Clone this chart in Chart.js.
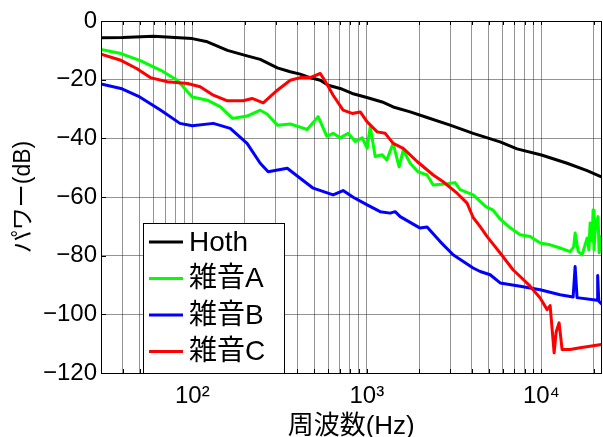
<!DOCTYPE html>
<html>
<head>
<meta charset="utf-8">
<script src="https://cdn.jsdelivr.net/npm/chart.js@4"></script>
<style>
    body { margin: 0; background: #fff; }
    #chartBox { width: 603px; height: 437px; }
</style>
</head>
<body>
<div id="chartBox"><canvas id="powerChart" width="603" height="437"></canvas></div>
<script>
// Datos (frecuencia en Hz, potencia en dB)
const hothFreq = [30, 40, 60, 100, 122, 159, 201, 245, 280, 307, 364, 415, 455, 541, 600, 703, 824, 1000, 1224, 1415, 1771, 2213, 2999, 4062, 5796, 7246, 10000, 14030, 18262, 22050];
const hothDb = [-5.7, -5.6, -5.2, -6.0, -7.1, -10.0, -11.7, -13.1, -14.8, -16.0, -17.3, -18.1, -19.0, -20.2, -21.9, -23.0, -24.7, -26.1, -27.6, -29.3, -31.0, -32.9, -35.5, -38.3, -41.2, -43.6, -45.7, -48.5, -51.0, -53.1];

const noiseAFreq = [30, 39, 50, 66, 82, 100, 122, 145, 170, 206, 245, 269, 307, 364, 415, 455, 526, 590, 641, 703, 781, 858, 940, 1004, 1045, 1116, 1224, 1300, 1415, 1530, 1615, 1771, 1960, 2213, 2399, 2884, 3201, 3420, 4062, 4800, 5286, 5802, 6620, 7553, 8617, 9831, 11215, 12790, 14599, 15300, 15594, 16229, 17100, 18262, 18700, 19003, 19300, 19500, 19769, 20000, 20294, 20600, 21110, 21400, 21673, 22050];
const noiseADb = [-9.7, -11.1, -13.4, -16.8, -20.2, -25.9, -27.0, -29.3, -33.2, -32.4, -30.4, -31.8, -35.5, -35.1, -36.2, -37.0, -32.6, -39.3, -38.3, -39.8, -38.3, -41.1, -39.8, -43.4, -36.0, -46.2, -45.6, -47.4, -41.7, -49.7, -44.0, -48.5, -51.4, -52.5, -55.9, -55.5, -55.1, -57.5, -59.3, -63.3, -64.5, -67.5, -70.5, -72.9, -73.5, -75.7, -76.3, -77.4, -78.6, -77.0, -72.3, -78.5, -79.7, -74.0, -78.0, -68.9, -70.0, -75.0, -64.4, -78.0, -72.0, -69.0, -66.7, -79.0, -76.9, -73.5];

const noiseBFreq = [30, 39, 50, 66, 85, 100, 132, 165, 206, 245, 272, 350, 415, 493, 641, 731, 835, 1004, 1192, 1360, 1452, 1552, 2019, 2213, 2629, 3119, 4062, 4458, 5086, 5802, 7553, 9831, 12790, 15190, 15594, 16000, 20834, 21000, 21300, 22050];
const noiseBDb = [-21.5, -23.0, -25.9, -30.4, -34.9, -35.7, -34.9, -36.6, -41.7, -48.5, -51.4, -50.2, -53.6, -57.0, -59.3, -57.8, -60.1, -62.7, -65.0, -65.5, -65.0, -66.7, -70.6, -70.2, -75.2, -79.7, -84.2, -85.4, -86.5, -89.3, -90.4, -91.6, -93.3, -94.1, -83.7, -94.3, -95.2, -86.8, -95.5, -96.4];

const noiseCFreq = [30, 39, 48, 57.5, 72, 94, 111, 132, 159, 196, 220, 255, 307, 364, 415, 473, 541, 577, 641, 731, 824, 916, 1004, 1146, 1274, 1415, 1615, 1941, 2399, 2735, 3288, 3750, 4062, 4458, 4886, 5802, 6874, 7553, 8617, 9831, 10780, 11215, 11823, 12141, 12626, 13135, 14599, 16651, 22050];
const noiseCDb = [-11.3, -13.4, -16.2, -19.3, -20.7, -21.3, -22.4, -25.3, -27.2, -27.2, -26.4, -27.9, -23.6, -20.2, -19.3, -19.3, -17.9, -20.5, -25.3, -30.4, -31.5, -31.0, -34.4, -37.8, -38.3, -41.7, -43.4, -47.9, -52.5, -54.8, -58.7, -62.1, -67.0, -70.1, -73.5, -79.1, -84.8, -87.1, -90.4, -94.4, -98.4, -97.0, -113.1, -106.0, -102.9, -112.0, -112.0, -111.4, -110.3];

const seriesLabels = ['Hoth', '雑音A', '雑音B', '雑音C'];
const seriesColors = ['#000000', '#00ff00', '#0000ff', '#ff0000'];

// Ticks del eje X (cuadrícula menor y etiquetas de década)
const xGridFreqs = [30, 40, 50, 60, 70, 80, 90, 100, 200, 300, 400, 500, 600, 700, 800, 900,
    1000, 2000, 3000, 4000, 5000, 6000, 7000, 8000, 9000, 10000, 20000];
const xMajorFreqs = [100, 1000, 10000];
const xMajorLabels = ['10²', '10³', '10⁴'];

const FONT = "'Liberation Sans', Arial, 'Noto Sans CJK JP', sans-serif";

function toPoints(freqs, values) {
    return freqs.map((f, i) => ({ x: f, y: values[i] }));
}

// Marco del área y marcas interiores (estilo MATLAB)
const framePlugin = {
    id: 'frame',
    afterDraw(chart) {
        const { ctx, chartArea: a, scales } = chart;
        ctx.save();
        ctx.strokeStyle = '#000';
        ctx.lineWidth = 1;
        ctx.beginPath();
        scales.x.ticks.forEach(t => {
            const px = Math.round(scales.x.getPixelForValue(t.value)) + 0.5;
            ctx.moveTo(px, a.top); ctx.lineTo(px, a.top + 4);
            ctx.moveTo(px, a.bottom); ctx.lineTo(px, a.bottom - 4);
        });
        scales.y.ticks.forEach(t => {
            const py = Math.round(scales.y.getPixelForValue(t.value)) + 0.5;
            ctx.moveTo(a.left, py); ctx.lineTo(a.left + 5, py);
        });
        ctx.stroke();
        ctx.strokeRect(Math.round(a.left) + 0.5, Math.round(a.top) + 0.5,
            Math.round(a.right - a.left), Math.round(a.bottom - a.top));
        ctx.restore();
    }
};

// Leyenda dentro del gráfico, abajo a la izquierda
const legendPlugin = {
    id: 'insideLegend',
    afterDraw(chart) {
        const { ctx } = chart;
        const box = { left: 143, top: 223, right: 284, bottom: 373 };
        ctx.save();
        ctx.fillStyle = '#fff';
        ctx.fillRect(box.left, box.top, box.right - box.left, box.bottom - box.top);
        ctx.strokeStyle = '#000';
        ctx.lineWidth = 1;
        ctx.strokeRect(box.left + 0.5, box.top + 0.5, box.right - box.left, box.bottom - box.top);
        ctx.font = '28px ' + FONT;
        ctx.textBaseline = 'middle';
        chart.data.datasets.forEach((ds, i) => {
            const y = 242 + i * 36.5;
            ctx.strokeStyle = ds.borderColor;
            ctx.lineWidth = 3;
            ctx.beginPath();
            ctx.moveTo(149, y);
            ctx.lineTo(183, y);
            ctx.stroke();
            ctx.fillStyle = '#000';
            ctx.fillText(ds.label, 189, y + 1);
        });
        ctx.restore();
    }
};

// Orden de dibujo: la última serie queda encima (como en MATLAB)
const datasets = [
    toPoints(hothFreq, hothDb),
    toPoints(noiseAFreq, noiseADb),
    toPoints(noiseBFreq, noiseBDb),
    toPoints(noiseCFreq, noiseCDb)
].map((points, i) => ({
    label: seriesLabels[i],
    data: points,
    order: seriesLabels.length - i,
    borderColor: seriesColors[i],
    borderWidth: 3,
    borderJoinStyle: 'round',
    borderCapStyle: 'round',
    pointRadius: 0,
    tension: 0,
    fill: false
}));

new Chart(document.getElementById('powerChart'), {
    type: 'line',
    data: { datasets },
    options: {
        responsive: false,
        animation: false,
        devicePixelRatio: 1,
        layout: { padding: { top: 21, left: 0, right: 1, bottom: 0 } },
        plugins: {
            legend: { display: false },
            tooltip: { enabled: false }
        },
        scales: {
            x: {
                type: 'logarithmic',
                min: 30,
                max: 22050,
                afterBuildTicks(scale) {
                    scale.ticks = xGridFreqs.map(v => ({ value: v }));
                },
                afterFit(scale) { scale.height = 64; },
                ticks: {
                    autoSkip: false,
                    maxRotation: 0,
                    padding: 9,
                    color: '#000',
                    font: { size: 24, family: FONT },
                    callback(value) {
                        const idx = xMajorFreqs.indexOf(value);
                        return idx >= 0 ? xMajorLabels[idx] : '';
                    }
                },
                grid: { color: 'rgba(0,0,0,0.42)', lineWidth: 1, drawTicks: false },
                border: { display: false },
                title: {
                    display: true,
                    text: '周波数(Hz)',
                    color: '#000',
                    font: { size: 26, family: FONT, lineHeight: 1 },
                    padding: { top: 0, bottom: -3 }
                }
            },
            y: {
                min: -120,
                max: 0,
                afterFit(scale) { scale.width = 101; },
                ticks: {
                    stepSize: 20,
                    padding: 4,
                    color: '#000',
                    font: { size: 24, family: FONT },
                    callback(value) {
                        return value < 0 ? '\u2212' + Math.abs(value) : String(value);
                    }
                },
                grid: { color: 'rgba(0,0,0,0.42)', lineWidth: 1, drawTicks: false },
                border: { display: false },
                title: {
                    display: true,
                    text: 'パワー(dB)',
                    color: '#000',
                    font: { size: 23, family: FONT },
                    padding: { top: 10, bottom: 0 }
                }
            }
        }
    },
    plugins: [framePlugin, legendPlugin]
});
</script>
</body>
</html>
